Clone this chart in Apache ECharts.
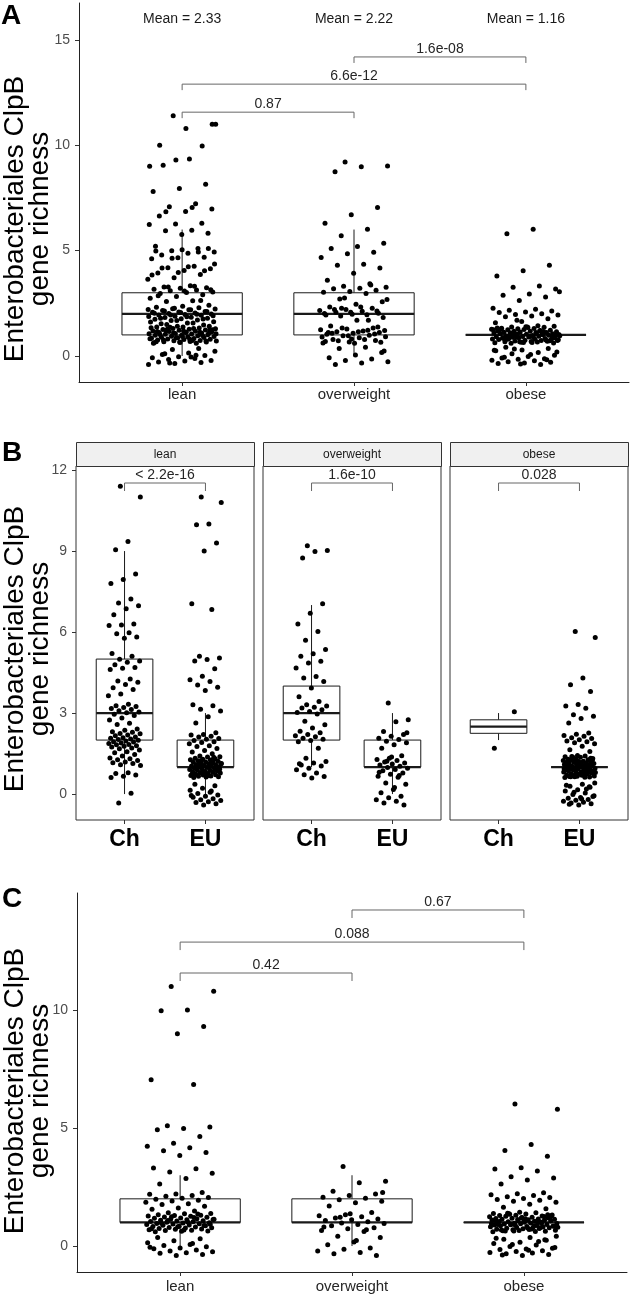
<!DOCTYPE html>
<html><head><meta charset="utf-8">
<script src="https://cdn.jsdelivr.net/npm/echarts@6/dist/echarts.min.js"></script>
<style>html,body{margin:0;padding:0;background:#fff}#c{width:630px;height:1295px}</style>
</head><body><div id="c"></div><script>
// ---------------- DATA ----------------
const CATS = ['lean', 'overweight', 'obese'];
const ORIGINS = ['Ch', 'EU'];
const TICKS_A = [0, 5, 10, 15];
const TICKS_B = [0, 3, 6, 9, 12];
const TICKS_C = [0, 5, 10];
const MEANS_A = ['Mean = 2.33', 'Mean = 2.22', 'Mean = 1.16'];
const MEAN_Y_A = 16;

// jittered point values per facet group (panel B); panel A = Ch + EU, panel C = EU only
const leanCh = [11.4, 11.0, 9.35, 9.05, 8.15, 7.95, 7.8, 7.22, 7.08, 6.97, 6.86, 6.64, 6.3, 6.26, 6.24, 5.97, 5.94, 5.82, 5.77,
  5.21, 5.1, 4.99, 4.93, 4.88, 4.79, 4.69, 4.66, 4.61, 4.26, 4.19, 4.14, 4.06, 3.94, 3.87, 3.71, 3.64,
  3.33, 3.27, 3.24, 3.21, 3.17, 3.13, 3.09, 3.04, 3.01, 2.96, 2.91, 2.82, 2.74, 2.62, 2.58,
  2.41, 2.36, 2.31, 2.29, 2.24, 2.23, 2.19, 2.16, 2.11, 2.09, 2.07, 2.04, 2.02, 1.99, 1.97, 1.94, 1.93, 1.89, 1.87, 1.84, 1.83, 1.79, 1.77, 1.74, 1.71, 1.68,
  1.63, 1.57, 1.53, 1.47, 1.41, 1.34, 1.31, 1.27, 1.24, 1.19, 1.16, 1.13, 1.09, 1.06, 0.79, 0.76, 0.71, 0.66, 0.61, 0.03, -0.33];
const leanEU = [11.0, 10.8, 10.0, 9.97, 9.3, 9.0, 7.05, 6.84, 5.1, 5.04, 4.98, 4.93, 4.64, 4.36, 4.23, 4.17, 4.04, 3.96, 3.84,
  3.31, 3.27, 3.14, 3.08, 2.86, 2.63, 2.27, 2.21, 2.19, 2.14, 2.11, 2.06, 2.03, 1.98, 1.94, 1.91, 1.86, 1.79, 1.76, 1.69, 1.61, 1.56, 1.49,
  1.41, 1.38, 1.37, 1.33, 1.31, 1.29, 1.27, 1.26, 1.23, 1.22, 1.19, 1.18, 1.16, 1.14, 1.12, 1.11, 1.09, 1.07, 1.06, 1.04, 1.03, 1.01, 0.99, 0.98,
  0.96, 0.94, 0.93, 0.91, 0.89, 0.88, 0.86, 0.84, 0.83, 0.81, 0.79, 0.78, 0.76, 0.74, 0.72, 0.71, 0.69, 0.67, 0.66, 0.64, 0.63, 0.61,
  1.36, 1.24, 1.13, 1.02, 0.97, 0.87, 0.82, 0.73, 1.21, 1.08, 0.92, 0.68,
  0.36, 0.31, 0.22, 0.14, 0.07, 0.02, -0.03, -0.08, -0.12, -0.17, -0.21, -0.24, -0.28, -0.31, -0.36, -0.4, -0.05, 0.11];
const owCh = [9.2, 9.02, 8.98, 8.74, 7.05, 6.7, 6.3, 6.02, 5.7, 5.35, 5.2, 5.1, 4.92, 4.85, 4.67, 4.35, 4.3, 4.17, 3.93,
  3.6, 3.43, 3.31, 3.26, 3.22, 3.19, 3.12, 3.06, 3.02, 2.97, 2.7, 2.57, 2.45, 2.33, 2.27, 2.21, 2.16, 2.12, 2.07, 2.03, 1.98, 1.94,
  1.7, 1.33, 1.21, 1.15, 1.08, 1.04, 0.96, 0.9, 0.78, 0.72, 0.65, 0.6, 1.12];
const owEU = [3.37, 2.75, 2.68, 2.32, 2.21, 2.14, 2.07, 2.02, 1.96, 1.9, 1.83, 1.7, 1.42, 1.33, 1.28, 1.24, 1.19, 1.15, 1.11, 1.08,
  1.03, 0.98, 0.96, 0.91, 0.86, 0.78, 0.73, 0.66, 0.62, 0.41, 0.36, 0.17, 0.05, -0.08, -0.14, -0.21, -0.27, -0.33, -0.4, 1.37, 0.81, 0.69, 1.22, 2.27, 0.24];
const obCh = [1.7, 3.05];
const obEU = [6.02, 5.8, 4.3, 4.05, 3.8, 3.32, 3.26, 3.18, 2.94, 2.88, 2.8, 2.63,
  2.26, 2.22, 2.17, 2.14, 2.09, 2.06, 2.01, 1.97, 1.94, 1.9, 1.86, 1.77, 1.64, 1.58,
  1.43, 1.38, 1.41, 1.35, 1.32, 1.36, 1.29, 1.27, 1.31, 1.24, 1.22, 1.26, 1.19, 1.21, 1.17, 1.15, 1.18, 1.13, 1.11, 1.14, 1.09, 1.07, 1.1, 1.05,
  1.03, 1.06, 1.01, 0.99, 1.02, 0.97, 0.95, 0.98, 0.93, 0.91, 0.94, 0.89, 0.87, 0.9, 0.85, 0.83, 0.86, 0.81, 0.79, 0.82, 0.77, 0.75, 0.78,
  0.73, 0.71, 0.74, 0.69, 0.67, 0.7, 0.65, 0.63, 0.66, 0.61, 0.62, 1.37, 1.28, 1.16, 1.04, 0.96, 0.88, 0.8, 0.72, 0.64, 1.33, 1.2, 1.08,
  1.0, 0.92, 0.84, 0.76, 0.68, 1.25, 1.12, 0.94, 0.86, 1.39, 1.23, 1.05, 0.91, 0.77, 0.64,
  0.41, 0.36, 0.29, 0.25, 0.16, 0.11, 0.04, -0.02, -0.09, -0.13, -0.15, -0.2, -0.23, -0.27, -0.3, -0.33, -0.36, -0.4, 0.33, 0.19, 0.07, -0.06, -0.18, -0.38, 0.27];

// box statistics [lower whisker, Q1, median, Q3, upper whisker]
const BOX_A = [[0, 1, 2, 3, 6], [0, 1, 2, 3, 6], [1, 1, 1, 1, 1]];
const BOX_B = [[[0, 2, 3, 5, 9], [0, 1, 1, 2, 3]], [[1, 2, 3, 4, 7], [0, 1, 1, 2, 3]], [[2, 2.25, 2.5, 2.75, 3], [1, 1, 1, 1, 1]]];
const BOX_C = [[0, 1, 1, 2, 3], [0, 1, 1, 2, 3], [1, 1, 1, 1, 1]];

// significance brackets [from, to, level] and p-values
const BRACKETS_A = [[1, 2, 11.57], [1, 3, 12.9], [2, 3, 14.19]];
const PVAL_A = ['0.87', '6.6e-12', '1.6e-08'];
const BRACKETS_B = [[1, 2, 11.52]];
const PVAL_B = ['< 2.2e-16', '1.6e-10', '0.028'];
const BRACKETS_C = [[1, 2, 11.57], [1, 3, 12.88], [2, 3, 14.24]];
const PVAL_C = ['0.42', '0.088', '0.67'];

const YTITLE = 'Enterobacteriales ClpB\ngene richness';

// ---------------- RENDERING ----------------
const FONT = '"Liberation Sans", Arial, Helvetica, sans-serif';
const BOXW = 0.7, JW = 0.2;
function jitter(i) { const f = (i * 0.6180339887 + 0.37) % 1; return (f - 0.5) * 2 * JW; }
function pts(x, ys) { return ys.map((y, i) => [x + jitter(i), y]); }

function boxRender(params, api) {
  const x = api.value(0);
  const lo = api.coord([x, api.value(1)]), q1 = api.coord([x, api.value(2)]);
  const q3 = api.coord([x, api.value(4)]), hi = api.coord([x, api.value(5)]);
  const bl = api.coord([x - BOXW / 2, api.value(2)]), tr = api.coord([x + BOXW / 2, api.value(4)]);
  const ml = api.coord([x - BOXW / 2, api.value(3)]), mr = api.coord([x + BOXW / 2, api.value(3)]);
  const st = { stroke: '#1a1a1a', lineWidth: 1 };
  return { type: 'group', children: [
    { type: 'line', shape: { x1: lo[0], y1: lo[1], x2: q1[0], y2: q1[1] }, style: st },
    { type: 'line', shape: { x1: q3[0], y1: q3[1], x2: hi[0], y2: hi[1] }, style: st },
    { type: 'rect', shape: { x: bl[0], y: tr[1], width: tr[0] - bl[0], height: bl[1] - tr[1] }, style: { fill: '#fff', stroke: '#1a1a1a', lineWidth: 1 } },
    { type: 'line', shape: { x1: ml[0], y1: ml[1], x2: mr[0], y2: mr[1] }, style: { stroke: '#1a1a1a', lineWidth: 2.2 } }
  ] };
}
function bracketRender(labels, drop) {
  return function (params, api) {
    const a = api.coord([api.value(0), api.value(2)]);
    const b = api.coord([api.value(1), api.value(2)]);
    return { type: 'group', children: [
      { type: 'polyline', shape: { points: [[a[0], a[1] + drop], [a[0], a[1]], [b[0], b[1]], [b[0], b[1] + drop]] }, style: { stroke: '#666', lineWidth: 1, fill: 'none' } },
      { type: 'text', x: (a[0] + b[0]) / 2, y: a[1] - 8, style: { text: labels[params.dataIndex], align: 'center', verticalAlign: 'middle', fontSize: 14, fontFamily: FONT, fill: '#262626' } }
    ] };
  };
}
function meanRender(params, api) {
  const p = api.coord([api.value(0), api.value(1)]);
  return { type: 'text', x: p[0], y: p[1], style: { text: MEANS_A[params.dataIndex], align: 'center', verticalAlign: 'middle', fontSize: 14, fontFamily: FONT, fill: '#1a1a1a' } };
}

const grids = [
  { left: 79, top: 3, width: 550, height: 379 },
  { left: 76, top: 466, width: 178, height: 354, show: true, borderColor: '#333', borderWidth: 1, backgroundColor: 'transparent' },
  { left: 263, top: 466, width: 178, height: 354, show: true, borderColor: '#333', borderWidth: 1, backgroundColor: 'transparent' },
  { left: 450, top: 466, width: 178, height: 354, show: true, borderColor: '#333', borderWidth: 1, backgroundColor: 'transparent' },
  { left: 77, top: 893, width: 550, height: 379 }
];

function xAx(gi, min, max, vals, names, opts) {
  return { type: 'value', gridIndex: gi, min, max, splitLine: { show: false },
    axisLine: { show: opts.line, onZero: false, lineStyle: { color: '#222', width: 1 } },
    axisTick: { show: true, customValues: vals, length: 4, lineStyle: { color: '#333' } },
    axisLabel: { customValues: vals, margin: opts.margin, formatter: v => names[Math.round(v) - 1],
      color: opts.color, fontSize: opts.size, fontWeight: opts.weight || 'normal', fontFamily: FONT } };
}
function yAx(gi, min, max, ticks, show, line) {
  return { type: 'value', gridIndex: gi, min, max, splitLine: { show: false },
    axisLine: { show: line, onZero: false, lineStyle: { color: '#222', width: 1 } },
    axisTick: { show: show, customValues: ticks, length: 4, lineStyle: { color: '#333' } },
    axisLabel: { show: show, customValues: ticks, margin: 9, color: '#4d4d4d', fontSize: 14, fontFamily: FONT } };
}

const xAxes = [
  xAx(0, 0.4, 3.6, [1, 2, 3], CATS, { line: true, margin: 5, color: '#262626', size: 15 }),
  xAx(1, 0.4, 2.6, [1, 2], ORIGINS, { line: false, margin: 8, color: '#000', size: 23, weight: 'bold' }),
  xAx(2, 0.4, 2.6, [1, 2], ORIGINS, { line: false, margin: 8, color: '#000', size: 23, weight: 'bold' }),
  xAx(3, 0.4, 2.6, [1, 2], ORIGINS, { line: false, margin: 8, color: '#000', size: 23, weight: 'bold' }),
  xAx(4, 0.4, 3.6, [1, 2, 3], CATS, { line: true, margin: 7, color: '#262626', size: 15 })
];
const yAxes = [
  yAx(0, -1.234, 16.75, TICKS_A, true, true),
  yAx(1, -0.96, 12.15, TICKS_B, true, false),
  yAx(2, -0.96, 12.15, TICKS_B, false, false),
  yAx(3, -0.96, 12.15, TICKS_B, false, false),
  yAx(4, -1.10, 14.96, TICKS_C, true, true)
];

const series = [];
function addPanel(gi, boxData, pointGroups, brackets, labels, drop) {
  series.push({ type: 'custom', coordinateSystem: 'cartesian2d', xAxisIndex: gi, yAxisIndex: gi, renderItem: boxRender, data: boxData, silent: true, z: 2 });
  pointGroups.forEach(([x, ys]) => series.push({ type: 'scatter', xAxisIndex: gi, yAxisIndex: gi, data: pts(x, ys), symbolSize: 5,
    itemStyle: { color: '#000', opacity: 1 }, silent: true, z: 3 }));
  series.push({ type: 'custom', coordinateSystem: 'cartesian2d', xAxisIndex: gi, yAxisIndex: gi, renderItem: bracketRender(labels, drop), data: brackets, silent: true, z: 4 });
}

// Panel A: all samples
addPanel(0, BOX_A.map((b, i) => [i + 1, ...b]),
  [[1, leanCh.concat(leanEU)], [2, owCh.concat(owEU)], [3, obCh.concat(obEU)]], BRACKETS_A, PVAL_A, 6);
series.push({ type: 'custom', coordinateSystem: 'cartesian2d', xAxisIndex: 0, yAxisIndex: 0, renderItem: meanRender,
  data: CATS.map((c, i) => [i + 1, MEAN_Y_A]), silent: true, z: 4 });
// Panel B: facets by BMI class, Ch vs EU
const facetPts = [[leanCh, leanEU], [owCh, owEU], [obCh, obEU]];
for (let f = 0; f < 3; f++) {
  addPanel(f + 1, BOX_B[f].map((b, i) => [i + 1, ...b]),
    [[1, facetPts[f][0]], [2, facetPts[f][1]]], BRACKETS_B, [PVAL_B[f]], 8);
}
// Panel C: EU only
addPanel(4, BOX_C.map((b, i) => [i + 1, ...b]),
  [[1, leanEU], [2, owEU], [3, obEU]], BRACKETS_C, PVAL_C, 8);

// strips, titles, panel letters
const graphic = [];
grids.slice(1, 4).forEach((g, f) => {
  graphic.push({ type: 'rect', left: g.left, top: 442, shape: { width: g.width, height: 24 }, style: { fill: '#f0f0f0', stroke: '#333', lineWidth: 1 }, z: 10 });
  graphic.push({ type: 'text', x: g.left + g.width / 2, y: 454.5, style: { text: CATS[f], align: 'center', verticalAlign: 'middle', fontSize: 12, fontFamily: FONT, fill: '#1a1a1a' }, z: 11 });
});
[[219], [649], [1091]].forEach(([cy]) => graphic.push({ type: 'text', x: 27.5, y: cy, rotation: Math.PI / 2,
  style: { text: YTITLE, align: 'center', verticalAlign: 'middle', fontSize: 28, lineHeight: 25, fontFamily: FONT, fill: '#000' } }));
[['A', 1, 16], ['B', 2, 453], ['C', 2, 899]].forEach(([t, x, y]) => graphic.push({ type: 'text', x, y,
  style: { text: t, align: 'left', verticalAlign: 'middle', fontSize: 28, fontWeight: 'bold', fontFamily: FONT, fill: '#000' } }));

const chart = echarts.init(document.getElementById('c'));
chart.setOption({ animation: false, backgroundColor: '#fff', grid: grids, xAxis: xAxes, yAxis: yAxes, series, graphic });
</script></body></html>
